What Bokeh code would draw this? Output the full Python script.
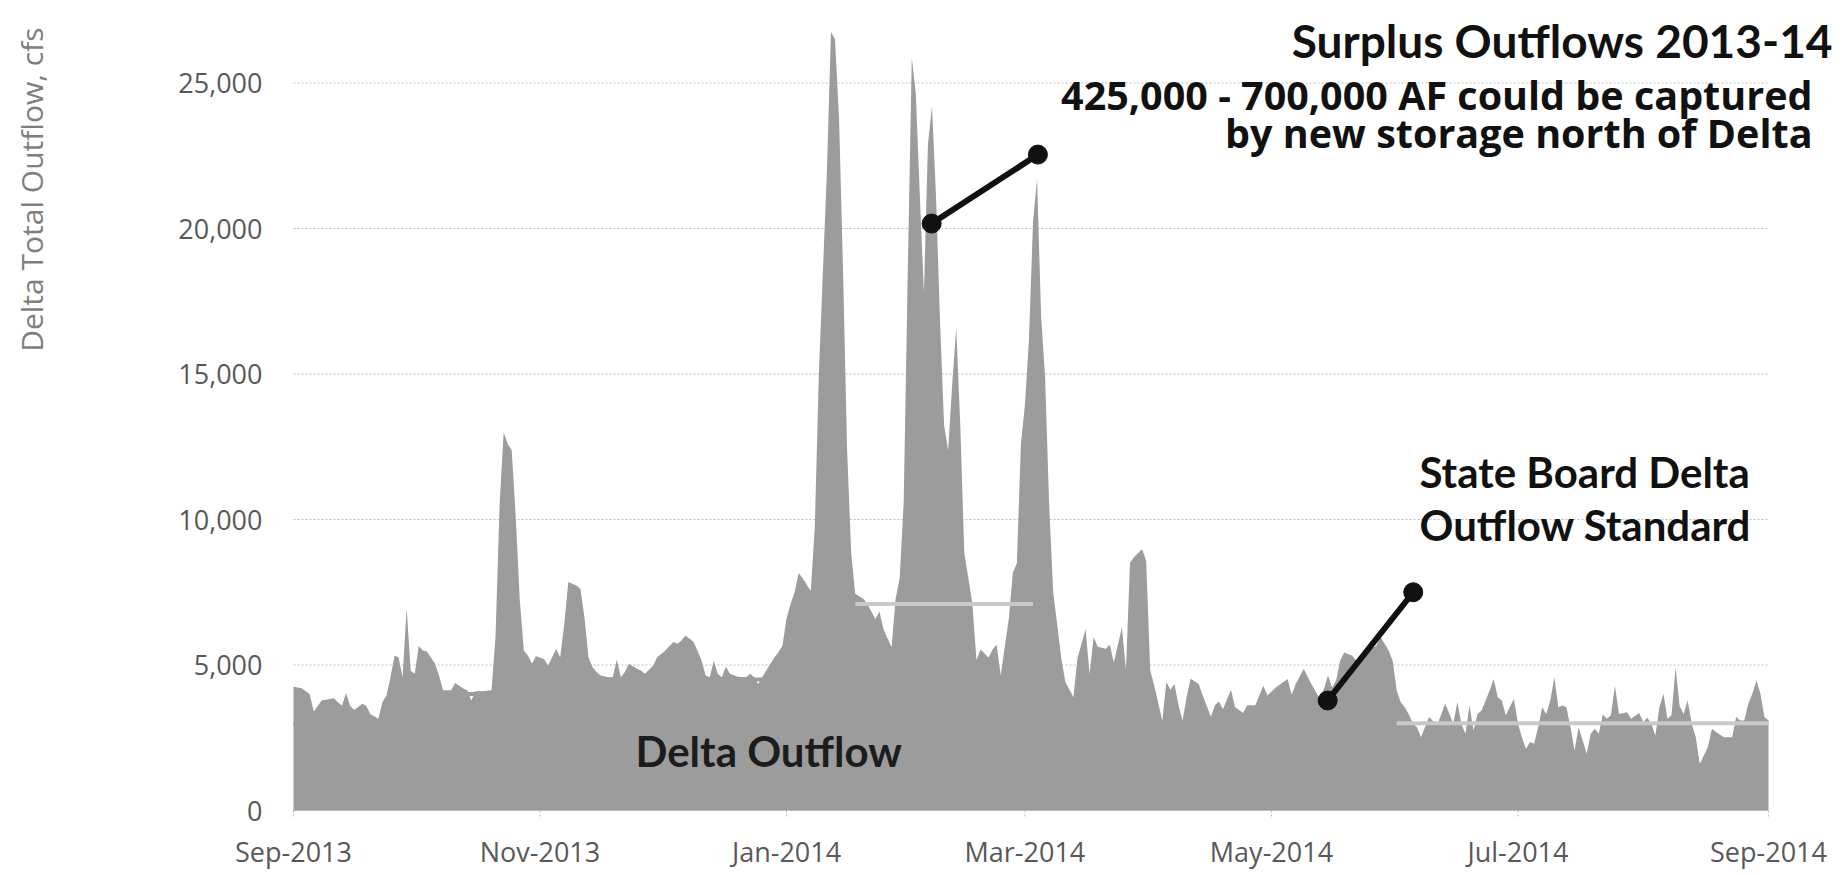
import math
import pandas as pd
from bokeh.plotting import figure
from bokeh.models import (ColumnDataSource, FixedTicker, DatetimeTickFormatter,
                          NumeralTickFormatter, Range1d)
from bokeh.core.properties import value
from bokeh.embed import file_html
from bokeh.resources import INLINE

# ---------------- data ----------------
dates = [
    "2013-09-01", "2013-09-03", "2013-09-05", "2013-09-06", "2013-09-08", "2013-09-11", "2013-09-12", "2013-09-13",
    "2013-09-14", "2013-09-15", "2013-09-16", "2013-09-18", "2013-09-19", "2013-09-20", "2013-09-22", "2013-09-23",
    "2013-09-24", "2013-09-25", "2013-09-26", "2013-09-27", "2013-09-28", "2013-09-29", "2013-09-30",
    "2013-10-01", "2013-10-02", "2013-10-03", "2013-10-04", "2013-10-06", "2013-10-07", "2013-10-08", "2013-10-10",
    "2013-10-11", "2013-10-13", "2013-10-14", "2013-10-15", "2013-10-16", "2013-10-18", "2013-10-20", "2013-10-21",
    "2013-10-22", "2013-10-23", "2013-10-24", "2013-10-25", "2013-10-26", "2013-10-27", "2013-10-28", "2013-10-29",
    "2013-10-30", "2013-10-31",
    "2013-11-02", "2013-11-03", "2013-11-05", "2013-11-06", "2013-11-07", "2013-11-08", "2013-11-10", "2013-11-11",
    "2013-11-12", "2013-11-13", "2013-11-14", "2013-11-15", "2013-11-16", "2013-11-18", "2013-11-19", "2013-11-20",
    "2013-11-21", "2013-11-22", "2013-11-23", "2013-11-25", "2013-11-26", "2013-11-27", "2013-11-29", "2013-11-30",
    "2013-12-02", "2013-12-04", "2013-12-05", "2013-12-06", "2013-12-07", "2013-12-09", "2013-12-10", "2013-12-11",
    "2013-12-12", "2013-12-13", "2013-12-14", "2013-12-15", "2013-12-16", "2013-12-17", "2013-12-18", "2013-12-20",
    "2013-12-22", "2013-12-23", "2013-12-24", "2013-12-25", "2013-12-26", "2013-12-27", "2013-12-29", "2013-12-30",
    "2013-12-31",
    "2014-01-01", "2014-01-02", "2014-01-03", "2014-01-04", "2014-01-05", "2014-01-07", "2014-01-08", "2014-01-09",
    "2014-01-11", "2014-01-12", "2014-01-13", "2014-01-14", "2014-01-15", "2014-01-16", "2014-01-17", "2014-01-18",
    "2014-01-20", "2014-01-21", "2014-01-22", "2014-01-23", "2014-01-24", "2014-01-25", "2014-01-27", "2014-01-28",
    "2014-01-29", "2014-01-30", "2014-01-31",
    "2014-02-01", "2014-02-02", "2014-02-03", "2014-02-04", "2014-02-05", "2014-02-06", "2014-02-07", "2014-02-08",
    "2014-02-09", "2014-02-10", "2014-02-11", "2014-02-12", "2014-02-13", "2014-02-14", "2014-02-16", "2014-02-17",
    "2014-02-18", "2014-02-20", "2014-02-21", "2014-02-22", "2014-02-23", "2014-02-25", "2014-02-26", "2014-02-27",
    "2014-02-28",
    "2014-03-01", "2014-03-02", "2014-03-03", "2014-03-04", "2014-03-05", "2014-03-06", "2014-03-07", "2014-03-08",
    "2014-03-10", "2014-03-11", "2014-03-13", "2014-03-14", "2014-03-16", "2014-03-17", "2014-03-18", "2014-03-19",
    "2014-03-21", "2014-03-22", "2014-03-23", "2014-03-25", "2014-03-26", "2014-03-27", "2014-03-28", "2014-03-30",
    "2014-03-31",
    "2014-04-01", "2014-04-02", "2014-04-04", "2014-04-05", "2014-04-06", "2014-04-07", "2014-04-08", "2014-04-09",
    "2014-04-10", "2014-04-11", "2014-04-13", "2014-04-14", "2014-04-16", "2014-04-17", "2014-04-18", "2014-04-19",
    "2014-04-21", "2014-04-22", "2014-04-24", "2014-04-25", "2014-04-27", "2014-04-29", "2014-04-30",
    "2014-05-02", "2014-05-05", "2014-05-06", "2014-05-07", "2014-05-09", "2014-05-10", "2014-05-12", "2014-05-13",
    "2014-05-14", "2014-05-15", "2014-05-16", "2014-05-17", "2014-05-18", "2014-05-19", "2014-05-21", "2014-05-22",
    "2014-05-23", "2014-05-25", "2014-05-27", "2014-05-28", "2014-05-30", "2014-05-31",
    "2014-06-01", "2014-06-02", "2014-06-03", "2014-06-04", "2014-06-05", "2014-06-06", "2014-06-07", "2014-06-08",
    "2014-06-09", "2014-06-11", "2014-06-13", "2014-06-14", "2014-06-15", "2014-06-16", "2014-06-17", "2014-06-18",
    "2014-06-19", "2014-06-20", "2014-06-21", "2014-06-22", "2014-06-24", "2014-06-25", "2014-06-26", "2014-06-27",
    "2014-06-28", "2014-06-30",
    "2014-07-01", "2014-07-02", "2014-07-03", "2014-07-04", "2014-07-05", "2014-07-06", "2014-07-07", "2014-07-08",
    "2014-07-09", "2014-07-10", "2014-07-11", "2014-07-12", "2014-07-13", "2014-07-14", "2014-07-15", "2014-07-16",
    "2014-07-17", "2014-07-18", "2014-07-19", "2014-07-20", "2014-07-21", "2014-07-22", "2014-07-23", "2014-07-24",
    "2014-07-25", "2014-07-26", "2014-07-28", "2014-07-29", "2014-07-31",
    "2014-08-01", "2014-08-02", "2014-08-03", "2014-08-04", "2014-08-05", "2014-08-06", "2014-08-07", "2014-08-08",
    "2014-08-09", "2014-08-10", "2014-08-11", "2014-08-12", "2014-08-13", "2014-08-14", "2014-08-15", "2014-08-17",
    "2014-08-18", "2014-08-19", "2014-08-21", "2014-08-23", "2014-08-24", "2014-08-25", "2014-08-26", "2014-08-27",
    "2014-08-28", "2014-08-29", "2014-08-30", "2014-08-31", "2014-09-01",
]

outflow = [
    4250, 4200, 4000, 3400, 3780, 3860, 3720, 3600,
    4040, 3600, 3450, 3670, 3600, 3320, 3150, 3720,
    3950, 4580, 5320, 5270, 4580, 6940, 4800,
    4700, 5650, 5500, 5460, 5050, 4650, 4130, 4130,
    4380, 4190, 4130, 3780, 4100, 4100, 4130, 6000,
    10500, 13000, 12600, 12380, 10080, 7220, 5500, 5330,
    5050, 5300,
    5210, 4980, 5550, 5270, 6400, 7850, 7730, 7620,
    6640, 5270, 4920, 4760, 4640, 4580, 4580, 5180,
    4580, 4760, 5040, 4870, 4810, 4700, 4980, 5270,
    5500, 5790, 5730, 5840, 6010, 5790, 5480, 5150,
    4640, 4580, 5150, 4700, 4580, 4950, 4700, 4600,
    4580, 4700, 4580, 4350, 4580, 4810, 5270, 5440,
    5660,
    6600, 7100, 7500, 8160, 7980, 7540, 9730, 15000,
    22000, 26750, 26500, 23800, 18500, 12370, 8860, 7450,
    7280, 7100, 6840, 6580, 6840, 6230, 5610, 7280,
    7980, 10600, 18500,
    25870, 24640, 21100, 17800, 22900, 24200, 21100, 16750,
    13240, 12370, 14650, 16580, 13240, 8860, 7100, 5170,
    5530, 5260, 5530, 5700, 4650, 6580, 8160, 8500,
    12600,
    13940, 16200, 20230, 21700, 17000, 14870, 10450, 7500,
    5230, 4420, 3890, 5230, 6230, 4690, 5960, 5630,
    5560, 5700, 5090, 6300, 4820, 8510, 8710, 8980,
    8580,
    4820, 4290, 3080, 4420, 4150, 4350, 3620, 3080,
    3890, 4530, 4350, 3950, 3220, 3620, 3750, 3480,
    4150, 3550, 3350, 3620, 3620, 4290, 3950,
    4220, 4520, 3980, 4350, 4870, 4580, 4060, 3840,
    4180, 4640, 4230, 4470, 5150, 5430, 5320, 5150,
    5270, 5500, 5670, 5960, 5500, 5150,
    4120, 3720, 3550, 3300, 3000, 2860, 2520, 2860,
    3210, 2930, 3670, 3330, 2980, 3730, 2980, 2640,
    3610, 2750, 3320, 3440, 4120, 4520, 3890, 3780,
    3270, 3840,
    3000, 2500, 2120, 2350, 2290, 2860, 3550, 3320,
    3780, 4580, 3550, 3610, 3550, 2860, 2060, 2860,
    2410, 1950, 2640, 2810, 2640, 3300, 3150, 3270,
    4290, 3320, 3380, 3150, 3350,
    3040, 3190, 2980, 2570, 3550, 4010, 3150, 3270,
    4920, 3600, 3320, 3780, 2980, 2520, 1600, 2180,
    2810, 2700, 2520, 2520, 3210, 3090, 3090, 3670,
    4010, 4470, 4010, 3210, 3090,
]

# State Board Delta outflow standard (cfs): Sep-Jan part blends with the area,
# Jan-Mar and Jun-Aug parts show as a light line
std_early_start = ["2013-09-01", "2013-10-01", "2013-11-01"]
std_early_end = ["2013-10-01", "2013-11-01", "2014-01-18"]
std_early_value = [3000, 4000, 4500]
std_start = ["2014-01-18", "2014-06-01"]
std_end = ["2014-03-03", "2014-09-01"]
std_value = [7100, 3000]

x_ticks = ["2013-09-01", "2013-11-01", "2014-01-01", "2014-03-01",
           "2014-05-01", "2014-07-01", "2014-09-01"]
y_ticks = [0, 5000, 10000, 15000, 20000, 25000]

# callout pointers (date, cfs)
ptr_surplus_x = ["2014-02-05 22:00", "2014-03-04 05:00"]
ptr_surplus_y = [20170, 22540]
ptr_std_x = ["2014-05-14 22:00", "2014-06-05 02:00"]
ptr_std_y = [3780, 7500]

title_text = "Surplus Outflows 2013-14"
sub_lines = ["425,000 - 700,000 AF could be captured", "by new storage north of Delta"]
std_lines = ["State Board Delta", "Outflow Standard"]
area_label = "Delta Outflow"
y_label = "Delta Total Outflow, cfs"


def ms(s):
    return pd.Timestamp(s).timestamp() * 1000.0


# ---------------- layout (pixels) ----------------
W, H = 1844, 872
axis_start_px, axis_end_px = 293, 1768     # where Sep-2013 / Sep-2014 sit
zero_px, px_per_5000 = 810, 145.5          # where 0 cfs sits, spacing of gridlines
frame_left, frame_right, frame_top, frame_bottom = 0, 1840, 8, 829
ms_per_px = (ms(x_ticks[-1]) - ms(x_ticks[0])) / (axis_end_px - axis_start_px)
cfs_per_px = 5000 / px_per_5000


def x_at(px):
    return ms(x_ticks[0]) + (px - axis_start_px) * ms_per_px


def y_at(py):
    return (zero_px - py) * cfs_per_px


p = figure(width=W, height=H, output_backend="svg", toolbar_location=None,
           x_axis_type="datetime",
           x_range=Range1d(x_at(frame_left), x_at(frame_right)),
           y_range=Range1d(y_at(frame_bottom), y_at(frame_top)),
           min_border_left=frame_left, min_border_right=W - frame_right,
           min_border_top=frame_top, min_border_bottom=H - frame_bottom)
p.outline_line_color = None
p.background_fill_color = "white"
p.border_fill_color = "white"

# dotted gridlines only across the dated span, dotted month ticks under the baseline
p.segment(x0=[ms(x_ticks[0])] * len(y_ticks), x1=[ms(x_ticks[-1])] * len(y_ticks),
          y0=y_ticks, y1=y_ticks, line_color="#bdbdbd", line_width=1,
          line_dash="2 2", level="underlay")
p.segment(x0=[ms(t) for t in x_ticks], x1=[ms(t) for t in x_ticks],
          y0=[0] * len(x_ticks), y1=[y_at(zero_px + 8)] * len(x_ticks),
          line_color="#bdbdbd", line_width=1, line_dash="2 2", level="underlay")

src = ColumnDataSource(dict(date=pd.to_datetime(dates), outflow=outflow))
p.varea(x="date", y1=0, y2="outflow", source=src, fill_color="#9c9c9c")

early_src = ColumnDataSource(dict(x0=pd.to_datetime(std_early_start), x1=pd.to_datetime(std_early_end),
                                  v=std_early_value))
p.segment(x0="x0", y0="v", x1="x1", y1="v", source=early_src, line_color="#9c9c9c", line_width=4)
std_src = ColumnDataSource(dict(x0=pd.to_datetime(std_start), x1=pd.to_datetime(std_end), v=std_value))
p.segment(x0="x0", y0="v", x1="x1", y1="v", source=std_src, line_color="#c9c9c9", line_width=4)

for xs, ys in [(ptr_surplus_x, ptr_surplus_y), (ptr_std_x, ptr_std_y)]:
    psrc = ColumnDataSource(dict(x=pd.to_datetime(xs), y=ys))
    p.line("x", "y", source=psrc, line_color="#111111", line_width=6)
    p.scatter("x", "y", source=psrc, size=19, fill_color="#111111", line_color="#111111")

lato = value("Lato")
p.text(x=[x_at(635)], y=[y_at(750)], text=[area_label],
       text_font=lato, text_font_style="bold", text_font_size="42px",
       text_color="#1c1c1c", text_align="left", text_baseline="middle")
p.text(x=[x_at(1419)] * 2, y=[y_at(471), y_at(524)], text=std_lines,
       text_font=lato, text_font_style="bold", text_font_size="42px",
       text_color="#111111", text_align="left", text_baseline="middle")
p.text(x=[x_at(1832)], y=[y_at(40)], text=[title_text],
       text_font=lato, text_font_style="bold", text_font_size="46px",
       text_color="#111111", text_align="right", text_baseline="middle")
p.text(x=[x_at(1812)] * 2, y=[y_at(94), y_at(132)], text=sub_lines,
       text_font=value("Open Sans"), text_font_style="bold", text_font_size="39.5px",
       text_color="#111111", text_align="right", text_baseline="middle")
# vertical axis title, ending near the top of the plot
p.text(x=[x_at(31)], y=[y_at(27)], text=[y_label], angle=math.pi / 2,
       text_font=value("Open Sans"), text_font_size="30px", text_color="#7f7f7f",
       text_align="right", text_baseline="middle")

# axes
p.xaxis.ticker = FixedTicker(ticks=[ms(t) for t in x_ticks])
p.xaxis.formatter = DatetimeTickFormatter(days="%b-%Y", months="%b-%Y", years="%b-%Y",
                                          hours="%b-%Y", minutes="%b-%Y")
p.xaxis.axis_line_color = None
p.xaxis.major_tick_line_color = None
p.xaxis.major_tick_in = 0
p.xaxis.major_tick_out = 0
p.xaxis.minor_tick_line_color = None
p.xaxis.major_label_text_font = "Open Sans"
p.xaxis.major_label_text_font_size = "27px"
p.xaxis.major_label_text_color = "#595959"
p.xaxis.major_label_standoff = 3

yax = p.yaxis[0]
yax.fixed_location = ms(x_ticks[0])
yax.ticker = FixedTicker(ticks=y_ticks)
yax.formatter = NumeralTickFormatter(format="0,0")
yax.axis_line_color = None
yax.major_tick_line_color = None
yax.minor_tick_line_color = None
yax.major_tick_in = 0
yax.major_tick_out = 0
yax.major_label_text_font = "Open Sans"
yax.major_label_text_font_size = "27px"
yax.major_label_text_color = "#595959"
yax.major_label_standoff = 31

p.xgrid.grid_line_color = None
p.ygrid.grid_line_color = None

open("out.html", "w").write(file_html(p, INLINE))
